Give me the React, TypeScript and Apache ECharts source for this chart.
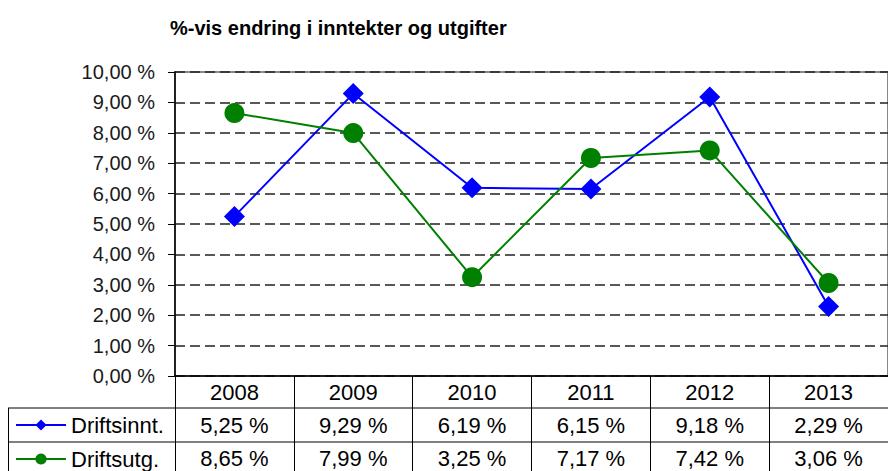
import React, { useEffect, useRef } from "react";
import * as echarts from "echarts";

const years = ["2008", "2009", "2010", "2011", "2012", "2013"];
const driftsinnt = [5.25, 9.29, 6.19, 6.15, 9.18, 2.29];
const driftsutg = [8.65, 7.99, 3.25, 7.17, 7.42, 3.06];
const seriesNames = ["Driftsinnt.", "Driftsutg."];
const titleText = "%-vis endring i inntekter og utgifter";

const FONT = "'Liberation Sans', Arial, sans-serif";
const fmt = (v: number) => v.toFixed(2).replace(".", ",") + " %";

export default function App() {
  const ref = useRef<HTMLDivElement>(null);
  useEffect(() => {
    if (!ref.current) return;
    const chart = echarts.init(ref.current, undefined, { renderer: "svg" });
    const gridLeft = 175;
    const gridTop = 72;
    const gridW = 726;
    const gridH = 304;
    const row1 = 408;
    const row2 = 442;
    const legendBase = {
      orient: "vertical",
      left: 15,
      padding: 0,
      itemWidth: 50,
      itemHeight: 14,
      itemGap: 10,
      textStyle: { fontFamily: FONT, fontSize: 22, color: "#000", lineHeight: 24 },
    };
    chart.setOption({
      animation: false,
      backgroundColor: "#ffffff",
      textStyle: { fontFamily: FONT },
      title: {
        text: titleText,
        left: 165,
        top: 13,
        textStyle: { fontFamily: FONT, fontSize: 20, fontWeight: "bold", color: "#000" },
      },
      legend: [
        { ...legendBase, top: 413, data: [seriesNames[0]] },
        { ...legendBase, top: 447, data: [seriesNames[1]] },
      ],
      grid: {
        left: gridLeft,
        top: gridTop,
        width: gridW,
        height: gridH,
        show: true,
        borderColor: "#888888",
        borderWidth: 2,
        backgroundColor: "transparent",
      },
      xAxis: {
        type: "category",
        data: years,
        boundaryGap: true,
        axisLine: { show: true, lineStyle: { color: "#000", width: 1.5 } },
        axisTick: { show: true, inside: false, length: 100, lineStyle: { color: "#000", width: 1 } },
        axisLabel: {
          margin: 0,
          interval: 0,
          formatter: (value: string, index: number) =>
            `{h|${value}}\n{v|${fmt(driftsinnt[index])}}\n{v|${fmt(driftsutg[index])}}`,
          rich: {
            h: { fontFamily: FONT, fontSize: 22, color: "#000", lineHeight: 33 },
            v: { fontFamily: FONT, fontSize: 22, color: "#000", lineHeight: 33 },
          },
        },
        splitLine: { show: false },
      },
      yAxis: {
        type: "value",
        min: 0,
        max: 10,
        interval: 1,
        axisLine: { show: true, lineStyle: { color: "#000", width: 1.5 } },
        axisTick: { show: true, length: 7, lineStyle: { color: "#000", width: 1 } },
        axisLabel: {
          margin: 20,
          fontFamily: FONT,
          fontSize: 20,
          color: "#1a1a1a",
          formatter: (v: number) => fmt(v),
        },
        splitLine: { show: true, lineStyle: { color: "#222", width: 1.5, type: [10, 5] } },
      },
      graphic: [
        { type: "line", shape: { x1: 8, y1: row1, x2: 888, y2: row1 }, style: { stroke: "#000", lineWidth: 1 } },
        { type: "line", shape: { x1: 8, y1: row2, x2: 888, y2: row2 }, style: { stroke: "#000", lineWidth: 1 } },
        { type: "line", shape: { x1: 8.5, y1: row1, x2: 8.5, y2: 471 }, style: { stroke: "#000", lineWidth: 1 } },
      ],
      series: [
        {
          name: seriesNames[0],
          type: "line",
          data: driftsinnt,
          symbol: "diamond",
          symbolSize: 21,
          lineStyle: { color: "#0000ff", width: 2 },
          itemStyle: { color: "#0000ff" },
        },
        {
          name: seriesNames[1],
          type: "line",
          data: driftsutg,
          symbol: "circle",
          symbolSize: 20,
          lineStyle: { color: "#008000", width: 2 },
          itemStyle: { color: "#008000" },
        },
      ],
    });
    return () => chart.dispose();
  }, []);
  return (
    <div
      ref={ref}
      style={{ position: "absolute", left: 0, top: 0, width: 888, height: 471 }}
    />
  );
}
